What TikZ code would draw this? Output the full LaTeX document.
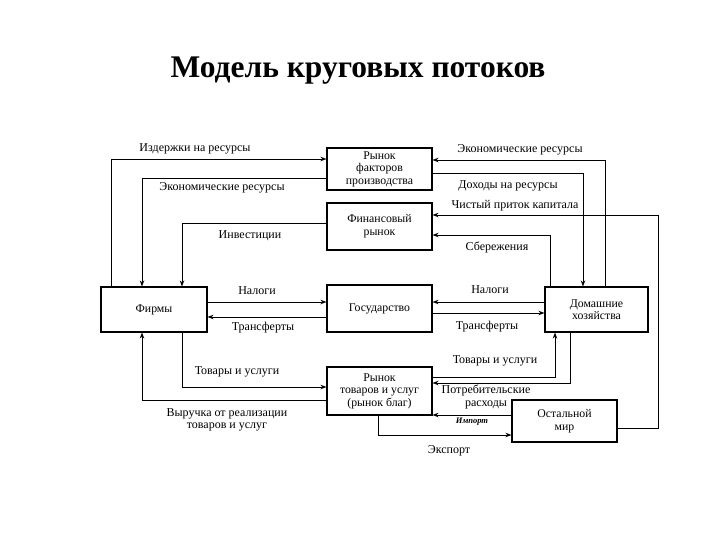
\documentclass[tikz,border=0pt]{standalone}
\usepackage{fontspec}
\setmainfont{Liberation Serif}
\usetikzlibrary{arrows.meta,positioning,calc}
\tikzset{
  ecbox/.style={draw=black,line width=1.1pt,align=center,inner sep=2pt,
    font=\fontsize{11.8}{12.6}\selectfont},
  flow/.style={-{Stealth[length=6pt,width=4.5pt]},line width=0.8pt,draw=black},
  flowlab/.style={font=\fontsize{12}{12.5}\selectfont,align=center,inner sep=1pt}
}

\begin{document}
\begin{tikzpicture}[x=1pt,y=-1pt]
  \useasboundingbox (0,0) rectangle (720,540);
  \node[font=\bfseries\fontsize{31.5}{34}\selectfont] (title) at (358,71) {Модель круговых потоков};
  % markets and agents
  \node[ecbox,minimum width=105pt,minimum height=42pt] (fpm) at (379.5,169) {Рынок\\факторов\\производства};
  \node[ecbox,minimum width=105pt,minimum height=47pt] (fin) at (379.5,226.5) {Финансовый\\рынок};
  \node[ecbox,minimum width=106pt,minimum height=45pt] (firms) at (154,309.5) {Фирмы};
  \node[ecbox,minimum width=105pt,minimum height=47pt] (gov) at (379.5,308.5) {Государство};
  \node[ecbox,minimum width=103pt,minimum height=45pt] (hh) at (596.5,309.5) {Домашние\\хозяйства};
  \node[ecbox,minimum width=105pt,minimum height=48pt] (goods) at (379.5,391) {Рынок\\товаров и услуг\\(рынок благ)};
  \node[ecbox,minimum width=105pt,minimum height=42pt] (row) at (564.5,421) {Остальной\\мир};
  \coordinate (capin) at (658,215);
  % flows, firms side
  \draw[flow] (111,0 |- firms.north) |- (fpm.west |- 0,159);
  \draw[flow] (fpm.west |- 0,178) -| (142,0 |- firms.north);
  \draw[flow] (fin.west |- 0,223) -| (182,0 |- firms.north);
  \draw[flow] (firms.east |- 0,302) -- (gov.west |- 0,302);
  \draw[flow] (gov.west |- 0,317) -- (firms.east |- 0,317);
  \draw[flow] (182,0 |- firms.south) |- (goods.west |- 0,387);
  \draw[flow] (goods.west |- 0,400) -| (142,0 |- firms.south);
  % flows, households side
  \draw[flow] (605,0 |- hh.north) |- (fpm.east |- 0,160);
  \draw[flow] (fpm.east |- 0,173) -| (583,0 |- hh.north);
  \draw[flow] (row.east |- 0,428) -| (capin) -- (fin.east |- capin);
  \draw[flow] (550,0 |- hh.north) |- (fin.east |- 0,235);
  \draw[flow] (hh.west |- 0,302) -- (gov.east |- 0,302);
  \draw[flow] (gov.east |- 0,313) -- (hh.west |- 0,313);
  \draw[flow] (goods.east |- 0,377) -| (555,0 |- hh.south);
  \draw[flow] (570,0 |- hh.south) |- (goods.east |- 0,383);
  \draw[flow] (row.west |- 0,415) -- (goods.east |- 0,415);
  \draw[flow] (378,0 |- goods.south) |- (row.west |- 0,435);
  % labels
  \node[flowlab] (lcost) at (195,149) {Издержки на ресурсы};
  \node[flowlab] (lresl) at (222,188) {Экономические ресурсы};
  \node[flowlab] (linv) at (250,236) {Инвестиции};
  \node[flowlab] (lresr) at (520,150) {Экономические ресурсы};
  \node[flowlab] (linc) at (508,186) {Доходы на ресурсы};
  \node[flowlab] (lcap) at (515,206) {Чистый приток капитала};
  \node[flowlab] (lsav) at (497,247) {Сбережения};
  \node[flowlab] (ltaxl) at (257,291) {Налоги};
  \node[flowlab] (ltrl) at (263,328) {Трансферты};
  \node[flowlab] (ltaxr) at (490,290) {Налоги};
  \node[flowlab] (ltrr) at (487,327) {Трансферты};
  \node[flowlab] (lgdsl) at (237,372) {Товары и услуги};
  \node[flowlab] (lgdsr) at (495,361) {Товары и услуги};
  \node[flowlab] (lrev) at (227,420) {Выручка от реализации\\товаров и услуг};
  \node[flowlab] (lcons) at (486,397) {Потребительские\\расходы};
  \node[flowlab,font=\bfseries\itshape\fontsize{8.5}{9}\selectfont] (limp) at (472,422) {Импорт};
  \node[flowlab] (lexp) at (449,451) {Экспорт};
\end{tikzpicture}
\end{document}
